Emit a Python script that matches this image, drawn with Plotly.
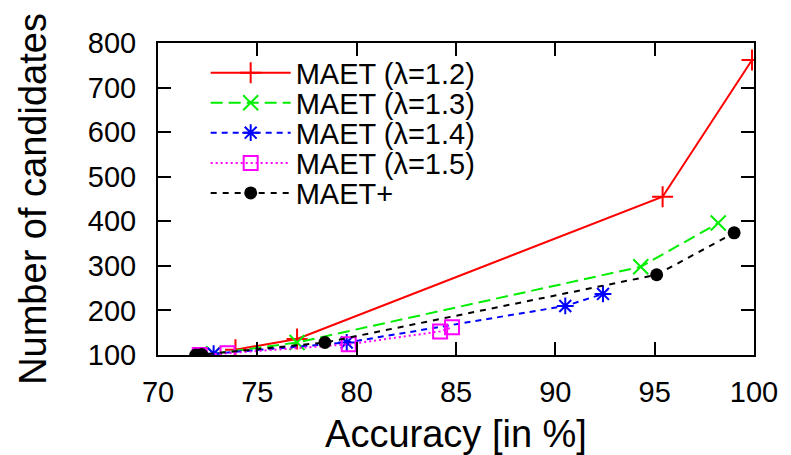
import plotly.graph_objects as go

# Data
red_x = [73.9, 77.0, 95.4, 99.9]
red_y = [112, 136, 455, 762]

green_x = [72.8, 77.0, 94.3, 98.2]
green_y = [103, 128, 298, 396]

blue_x = [72.8, 79.5, 90.5, 92.4]
blue_y = [103, 128, 210, 237]

pink_x = [72.1, 73.5, 79.6, 84.2, 84.8]
pink_y = [100, 104, 124, 153, 162]

black_x = [71.9, 72.2, 78.4, 95.1, 99.0]
black_y = [100, 101, 128, 280, 374]

names = ["MAET (λ=1.2)", "MAET (λ=1.3)", "MAET (λ=1.4)", "MAET (λ=1.5)", "MAET+"]

x_ticks = [70, 75, 80, 85, 90, 95, 100]
y_ticks = [100, 200, 300, 400, 500, 600, 700, 800]

FONT = "Liberation Sans, Arial, sans-serif"

fig = go.Figure()
fig.add_trace(go.Scatter(x=red_x, y=red_y, name=names[0], mode="lines+markers", legend="legend",
                         line=dict(color="#ff0000", width=2),
                         marker=dict(symbol="cross-thin-open", size=15,
                                     line=dict(color="#ff0000", width=2))))
fig.add_trace(go.Scatter(x=green_x, y=green_y, name=names[1], mode="lines+markers", legend="legend2",
                         line=dict(color="#00ee00", width=2, dash="12px,6px"),
                         marker=dict(symbol="x-thin-open", size=15,
                                     line=dict(color="#00ee00", width=2))))
fig.add_trace(go.Scatter(x=blue_x, y=blue_y, name=names[2], mode="lines+markers", legend="legend3",
                         line=dict(color="#0000ff", width=2, dash="6px,5px"),
                         marker=dict(symbol="asterisk-open", size=14,
                                     line=dict(color="#0000ff", width=2))))
fig.add_trace(go.Scatter(x=pink_x, y=pink_y, name=names[3], mode="lines+markers", legend="legend4",
                         line=dict(color="#ff00ff", width=2, dash="2px,3px"),
                         marker=dict(symbol="square-open", size=14,
                                     line=dict(color="#ff00ff", width=2))))
fig.add_trace(go.Scatter(x=black_x, y=black_y, name=names[4], mode="lines+markers", legend="legend5",
                         line=dict(color="#000000", width=2, dash="6px,6px"),
                         marker=dict(symbol="circle", size=13, color="#000000")))

axis_common = dict(
    showline=True, linecolor="black", linewidth=2, mirror="ticks",
    ticks="inside", ticklen=13, tickwidth=2, tickcolor="black",
    showgrid=False, zeroline=False,
    tickfont=dict(family=FONT, size=29, color="black"),
)

fig.update_xaxes(range=[70, 100], tickvals=x_ticks, ticktext=[str(v) for v in x_ticks],
                 title=dict(text="Accuracy [in %]", font=dict(family=FONT, size=38, color="black"),
                            standoff=14),
                 ticklabelstandoff=10, **axis_common)
fig.update_yaxes(range=[100, 800], tickvals=y_ticks, ticktext=[str(v) for v in y_ticks],
                 title=dict(text="Number of candidates", font=dict(family=FONT, size=38, color="black"),
                            standoff=30),
                 ticklabelstandoff=14, **axis_common)

legend_style = dict(xanchor="left", yanchor="middle", bgcolor="rgba(0,0,0,0)", borderwidth=0,
                    font=dict(family=FONT, size=29, color="black"), itemwidth=80)
leg_x = 0.08
leg_rows = [0.904, 0.808, 0.712, 0.615, 0.519]

fig.update_layout(
    width=791, height=455,
    margin=dict(l=158, r=37, t=43, b=100, autoexpand=False),
    paper_bgcolor="white", plot_bgcolor="white",
    font=dict(family=FONT, color="black"),
    showlegend=True,
    legend=dict(x=leg_x, y=leg_rows[0], **legend_style),
    legend2=dict(x=leg_x, y=leg_rows[1], **legend_style),
    legend3=dict(x=leg_x, y=leg_rows[2], **legend_style),
    legend4=dict(x=leg_x, y=leg_rows[3], **legend_style),
    legend5=dict(x=leg_x, y=leg_rows[4], **legend_style),
)

fig.write_html("out.html", config={"displayModeBar": False},
               post_script="document.body.style.margin='0px';")
